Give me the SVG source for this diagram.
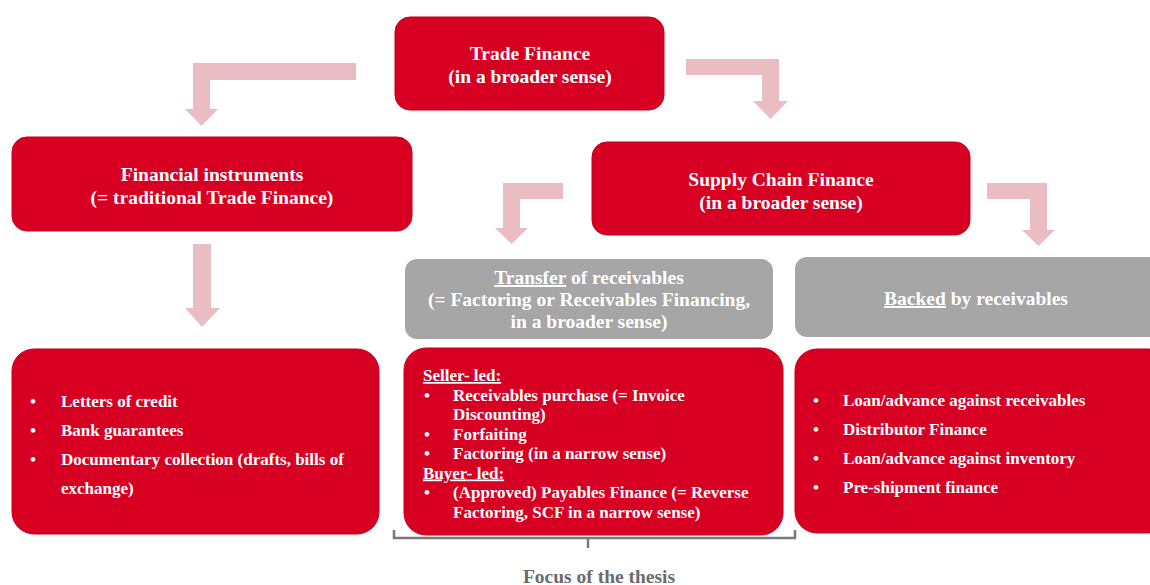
<svg xmlns="http://www.w3.org/2000/svg" width="1150" height="585" viewBox="0 0 1150 585">
<style>
.red{fill:#D70023;stroke:#C0001E;stroke-width:1}
.gray{fill:#A6A6A6}
.arrow{fill:#E9BDC1}
.t{font-family:"Liberation Serif","Times New Roman",serif;font-weight:bold;fill:#FFFFFF}
.title{font-size:19.5px;text-anchor:middle}
.list{font-size:17px}
.u{text-decoration:underline}
.focus{font-family:"Liberation Serif","Times New Roman",serif;font-weight:bold;font-size:19.5px;fill:#6B6B6B;text-anchor:middle}
</style>
<rect width="1150" height="585" fill="#FFFFFF"/>
<g id="connectors">
<polygon class="arrow" points="356,63 193,63 193,109 185,109 201.5,126 218,109 210,109 210,80 356,80"/>
<polygon class="arrow" points="686,59 779,59 779,101 788,101 770.5,119 753,101 762,101 762,75 686,75"/>
<polygon class="arrow" points="563,183 503,183 503,228 495,228 511.5,244 528,228 520,228 520,199 563,199"/>
<polygon class="arrow" points="987,183 1047,183 1047,230 1055,230 1038.5,246 1022,230 1030,230 1030,199 987,199"/>
<polygon class="arrow" points="193,244 211,244 211,308 220,308 202,327 185,308 193,308"/>
<path d="M394,530 L394,538 L795,538 L795,530 M588,538 L588,548" fill="none" stroke="#7A7A7A" stroke-width="2.5"/>
</g>
<g id="trade-finance">
<rect class="red" x="395" y="17" width="269" height="93" rx="15"/>
<text class="t title" x="530" y="60">Trade Finance</text>
<text class="t title" x="530" y="83">(in a broader sense)</text>
</g>
<g id="financial-instruments">
<rect class="red" x="12" y="137" width="400" height="94" rx="15"/>
<text class="t title" x="212" y="181">Financial instruments</text>
<text class="t title" x="212" y="204">(= traditional Trade Finance)</text>
</g>
<g id="supply-chain-finance">
<rect class="red" x="592" y="142" width="378" height="93" rx="15"/>
<text class="t title" x="781" y="186">Supply Chain Finance</text>
<text class="t title" x="781" y="209">(in a broader sense)</text>
</g>
<g id="transfer">
<rect class="gray" x="405" y="259" width="368" height="80" rx="12"/>
<text class="t title" x="589" y="284"><tspan class="u">Transfer</tspan> of receivables</text>
<text class="t title" x="589" y="306">(= Factoring or Receivables Financing,</text>
<text class="t title" x="589" y="328">in a broader sense)</text>
</g>
<g id="backed">
<rect class="gray" x="795" y="257" width="370" height="80" rx="12"/>
<text class="t title" x="976" y="305"><tspan class="u">Backed</tspan> by receivables</text>
</g>
<g id="instruments-list">
<rect class="red" x="12" y="349" width="367" height="185" rx="22"/>
<text class="t list" x="30" y="407">•</text>
<text class="t list" x="61" y="407">Letters of credit</text>
<text class="t list" x="30" y="436">•</text>
<text class="t list" x="61" y="436">Bank guarantees</text>
<text class="t list" x="30" y="465">•</text>
<text class="t list" x="61" y="465">Documentary collection (drafts, bills of</text>
<text class="t list" x="61" y="494">exchange)</text>
</g>
<g id="transfer-list">
<rect class="red" x="404" y="348" width="379" height="187" rx="22"/>
<text class="t list u" x="423" y="381">Seller- led:</text>
<text class="t list" x="424" y="400.5">•</text>
<text class="t list" x="453" y="400.5">Receivables purchase (= Invoice</text>
<text class="t list" x="453" y="420">Discounting)</text>
<text class="t list" x="424" y="439.5">•</text>
<text class="t list" x="453" y="439.5">Forfaiting</text>
<text class="t list" x="424" y="459">•</text>
<text class="t list" x="453" y="459">Factoring (in a narrow sense)</text>
<text class="t list u" x="423" y="478.5">Buyer- led:</text>
<text class="t list" x="424" y="498">•</text>
<text class="t list" x="453" y="498">(Approved) Payables Finance (= Reverse</text>
<text class="t list" x="453" y="517.5">Factoring, SCF in a narrow sense)</text>
</g>
<g id="backed-list">
<rect class="red" x="795" y="349" width="375" height="184" rx="22"/>
<text class="t list" x="813" y="406">•</text>
<text class="t list" x="843" y="406">Loan/advance against receivables</text>
<text class="t list" x="813" y="435">•</text>
<text class="t list" x="843" y="435">Distributor Finance</text>
<text class="t list" x="813" y="464">•</text>
<text class="t list" x="843" y="464">Loan/advance against inventory</text>
<text class="t list" x="813" y="493">•</text>
<text class="t list" x="843" y="493">Pre-shipment finance</text>
</g>
<g id="focus-label">
<text class="focus" x="599" y="583">Focus of the thesis</text>
</g>
</svg>
